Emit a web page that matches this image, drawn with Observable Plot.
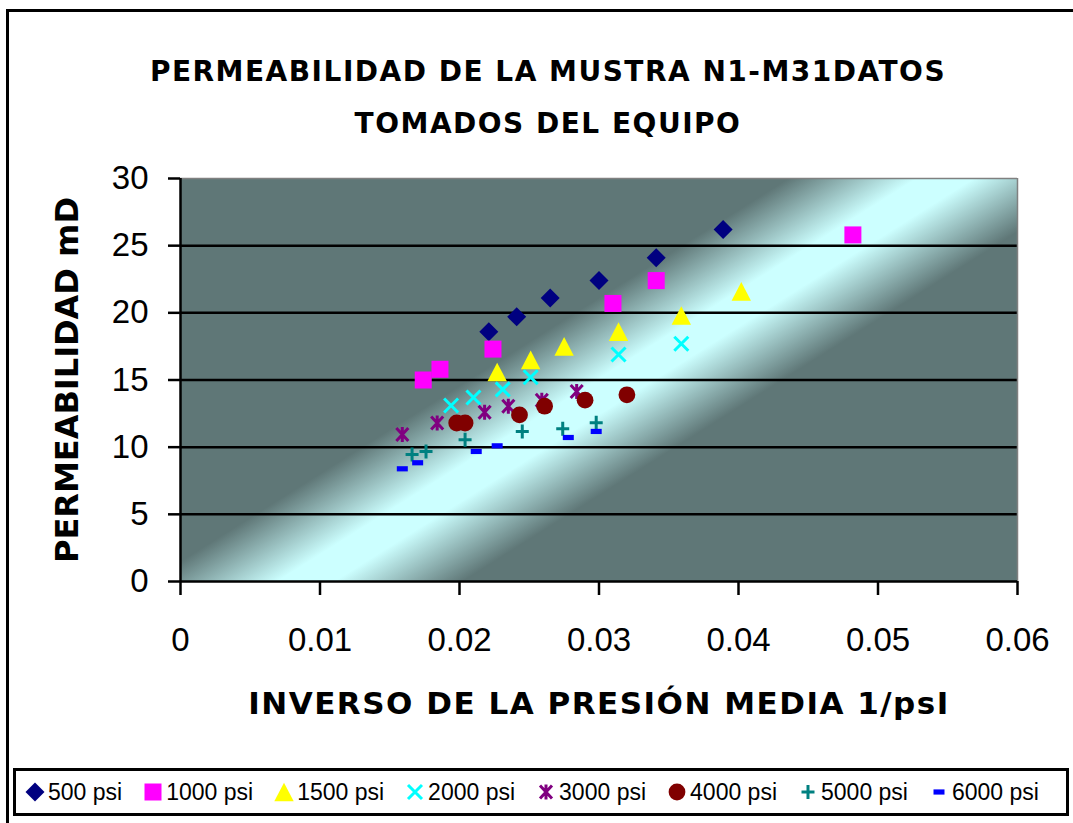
<!DOCTYPE html>
<html>
<head>
<meta charset="utf-8">
<script src="https://cdn.jsdelivr.net/npm/d3@7"></script>
<script src="https://cdn.jsdelivr.net/npm/@observablehq/plot@0.6"></script>
<style>
  html, body { margin: 0; padding: 0; overflow: hidden; background: #fff; }
  #wrap { position: relative; width: 1073px; height: 823px; overflow: hidden; }
  #outer { position: absolute; left: 6px; top: 9px; width: 1100px; height: 850px; border: 3px solid #000; }
  #title { position: absolute; left: 0; top: 46px; width: 1050px; padding-left: 23px; text-align: center;
           font-family: "DejaVu Sans", sans-serif; font-weight: bold; font-size: 28px; line-height: 52px;
           letter-spacing: 1.5px; color: #000; }
  #chart { position: absolute; left: 0; top: 150px; }
  #legend { position: absolute; left: 13px; top: 768px; width: 1056px; height: 48px; box-sizing: border-box;
            border: 3px solid #000; display: flex; align-items: center; padding-left: 9px; gap: 21px;
            font-family: "Liberation Sans", Arial, sans-serif; font-size: 23px; color: #000; background: #fff; }
  .item { display: flex; align-items: center; gap: 3px; white-space: nowrap; }
  .item svg { display: block; overflow: visible; }
</style>
</head>
<body>
<div id="wrap">
  <div id="outer"></div>
  <div id="title">PERMEABILIDAD DE LA MUSTRA N1-M31DATOS<br>TOMADOS DEL EQUIPO</div>
  <div id="chart"></div>
  <div id="legend"></div>
</div>
<script>
// ---- data ----
const series = ["500 psi", "1000 psi", "1500 psi", "2000 psi", "3000 psi", "4000 psi", "5000 psi", "6000 psi"];
const x500  = [0.0221, 0.0241, 0.0265, 0.0300, 0.0341, 0.0389];
const y500  = [18.6, 19.7, 21.1, 22.4, 24.1, 26.2];
const x1000 = [0.0174, 0.0186, 0.0224, 0.0310, 0.0341, 0.0482];
const y1000 = [15.0, 15.8, 17.3, 20.7, 22.4, 25.8];
const x1500 = [0.0227, 0.0251, 0.0275, 0.0314, 0.0359, 0.0402];
const y1500 = [15.6, 16.5, 17.5, 18.6, 19.8, 21.6];
const x2000 = [0.0194, 0.0210, 0.0231, 0.0251, 0.0314, 0.0359];
const y2000 = [13.1, 13.7, 14.3, 15.2, 16.9, 17.7];
const x3000 = [0.0159, 0.0184, 0.0218, 0.0235, 0.0259, 0.0284];
const y3000 = [10.95, 11.8, 12.6, 13.05, 13.5, 14.15];
const x4000 = [0.0198, 0.0204, 0.0243, 0.0261, 0.0290, 0.0320];
const y4000 = [11.8, 11.8, 12.4, 13.05, 13.5, 13.9];
const x5000 = [0.0166, 0.0176, 0.0204, 0.0245, 0.0274, 0.0298];
const y5000 = [9.46, 9.68, 10.55, 11.17, 11.37, 11.82];
const x6000 = [0.0159, 0.0170, 0.0212, 0.0227, 0.0278, 0.0298];
const y6000 = [8.39, 8.84, 9.68, 10.1, 10.72, 11.17];
const xTicks = [0, 0.01, 0.02, 0.03, 0.04, 0.05, 0.06];
const yTicks = [0, 5, 10, 15, 20, 25, 30];
const xLabel = "INVERSO DE LA PRESIÓN MEDIA 1/psI";
const yLabel = "PERMEABILIDAD mD";

const xs = [x500, x1000, x1500, x2000, x3000, x4000, x5000, x6000];
const ys = [y500, y1000, y1500, y2000, y3000, y4000, y5000, y6000];

// ---- styles ----
const colors = ["#000080", "#ff00ff", "#ffff00", "#00ffff", "#800080", "#800000", "#008080", "#0000ff"];
const symbols = [
  {draw(c){c.moveTo(0,-9.5);c.lineTo(9.5,0);c.lineTo(0,9.5);c.lineTo(-9.5,0);c.closePath();}},
  {draw(c){c.rect(-8.5,-8.5,17,17);}},
  {draw(c){c.moveTo(0,-9.3);c.lineTo(9.7,9.3);c.lineTo(-9.7,9.3);c.closePath();}},
  {draw(c){c.moveTo(-7,-7);c.lineTo(7,7);c.moveTo(-7,7);c.lineTo(7,-7);}},
  {draw(c){c.moveTo(-6,-6.5);c.lineTo(6,6.5);c.moveTo(-6,6.5);c.lineTo(6,-6.5);c.moveTo(0,-7.5);c.lineTo(0,7.5);}},
  {draw(c){c.moveTo(8.4,0);c.arc(0,0,8.4,0,2*Math.PI);c.closePath();}},
  {draw(c){c.moveTo(-6.5,0);c.lineTo(6.5,0);c.moveTo(0,-7);c.lineTo(0,7);}},
  {draw(c){c.rect(-5.5,-2.6,11,5.2);}}
];
const filled = [true, true, true, false, false, true, false, true];

const W = 1073, H = 590;
const mL = 180, mR = 56, mT = 28, mB = 159;

const dotMarks = series.map((s, i) => {
  const rows = d3.zip(xs[i], ys[i]);
  return Plot.dot(rows, {
    x: d => d[0], y: d => d[1], symbol: symbols[i],
    fill: filled[i] ? colors[i] : "none",
    stroke: filled[i] ? "none" : colors[i],
    strokeWidth: filled[i] ? 0 : 3
  });
});

const svg = Plot.plot({
  width: W, height: H,
  marginLeft: mL, marginRight: mR, marginTop: mT, marginBottom: mB,
  style: {fontFamily: "'Liberation Sans', Arial, sans-serif", fontSize: "33px", color: "#000", background: "transparent", overflow: "visible"},
  x: {domain: [0, 0.06]},
  y: {domain: [0, 30]},
  marks: [
    Plot.frame({fill: "url(#bg)", stroke: "none"}),
    Plot.ruleY(yTicks.filter(v => v > 0 && v < 30), {stroke: "#000", strokeWidth: 2.5}),
    Plot.ruleY([30], {stroke: "#808080", strokeWidth: 1.5}),
    Plot.ruleX([0.06], {stroke: "#808080", strokeWidth: 1.5}),
    ...dotMarks,
    Plot.ruleX([0], {stroke: "#000", strokeWidth: 2.5}),
    Plot.ruleY([0], {stroke: "#000", strokeWidth: 2.5}),
    Plot.axisX({ticks: xTicks, tickSize: 14, tickPadding: 32, strokeWidth: 2.5, label: null,
                tickFormat: d => String(+d.toFixed(2)), fontSize: 33}),
    Plot.axisY({ticks: yTicks, tickSize: 12, tickPadding: 20, strokeWidth: 2.5, label: null, fontSize: 33}),
    Plot.text([xLabel], {frameAnchor: "bottom", dy: 122.5, lineAnchor: "middle", textAnchor: "middle", text: d => d,
      fontFamily: "DejaVu Sans, sans-serif", fontWeight: "bold", fontSize: 31}),
    Plot.text([yLabel], {frameAnchor: "left", dx: -113, rotate: -90, lineAnchor: "middle", textAnchor: "middle", text: d => d,
      fontFamily: "DejaVu Sans, sans-serif", fontWeight: "bold", fontSize: 32})
  ]
});

// gradient background (diagonal light band)
const cx = 625, cy = 379.5 - 150, nx = 0.533, ny = 0.846, half = 95;
const defs = d3.select(svg).insert("defs", ":first-child");
const lg = defs.append("linearGradient").attr("id", "bg").attr("gradientUnits", "userSpaceOnUse")
  .attr("x1", cx - nx * half).attr("y1", cy - ny * half)
  .attr("x2", cx + nx * half).attr("y2", cy + ny * half);
const dark = "#5f7777", light = "#ccffff";
[[0, dark], [0.06, dark], [0.42, light], [0.58, light], [0.94, dark], [1, dark]].forEach(([o, c]) =>
  lg.append("stop").attr("offset", o).attr("stop-color", c));
d3.select(svg).selectAll('[aria-label="frame"]').each(function() {
  const el = d3.select(this);
  if (this.tagName.toLowerCase() === "rect") el.attr("fill", "url(#bg)");
  el.selectAll("rect").attr("fill", "url(#bg)");
});
// letter spacing for the x label
d3.select(svg).selectAll('g[aria-label="text"] text').each(function() {
  if (this.textContent === xLabel) this.style.letterSpacing = "1.5px";
});

document.getElementById("chart").appendChild(svg);

// legend
const legend = d3.select("#legend");
series.forEach((s, i) => {
  const it = legend.append("div").attr("class", "item");
  const sv = it.append("svg").attr("width", 20).attr("height", 20).attr("viewBox", "-10 -10 20 20");
  sv.append("path").attr("d", d3.symbol().type(symbols[i])())
    .attr("fill", filled[i] ? colors[i] : "none")
    .attr("stroke", filled[i] ? "none" : colors[i])
    .attr("stroke-width", filled[i] ? 0 : 3);
  it.append("span").text(s);
});
</script>
</body>
</html>
